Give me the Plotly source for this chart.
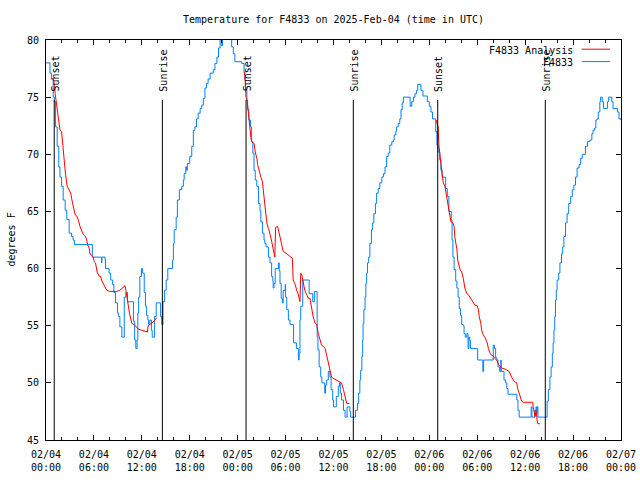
import pandas as pd
import plotly.graph_objects as go

BASE = "2025-02-04 00:00"
title_text = "Temperature for F4833 on 2025-Feb-04 (time in UTC)"
y_title = "degrees F"
legend_names = ["F4833 Analysis", "F4833"]

# Observed F4833 temperature (hours after 2025-02-04 00:00 UTC, deg F)
obs_hours = [
    0.0, 0.25, 0.5, 0.7, 0.9, 1.05, 1.2, 1.4, 1.6, 1.75, 1.95, 2.15, 2.4, 2.6, 2.9, 3.2, 3.4, 3.55,
    5.8, 6.95, 7.0, 7.4, 7.45, 7.9, 8.1, 8.35, 8.5, 8.7, 8.95, 9.1, 9.25, 9.5, 9.8, 10.0, 10.2,
    10.95, 11.1, 11.25, 11.4, 11.5, 11.6, 11.75, 11.95, 12.1, 12.3, 12.45, 12.6, 12.75, 12.85,
    13.0, 13.2, 13.3, 13.6, 13.8, 14.35, 14.5, 14.65, 14.85, 15.05, 15.25, 15.85, 15.95, 16.05,
    16.3, 16.45, 16.7, 17.0, 17.2, 17.3, 17.5, 17.6, 17.7, 18.0, 18.25, 18.45, 18.65, 18.85,
    19.05, 19.3, 19.5, 19.7, 19.9, 20.1, 20.3, 20.55, 20.95, 21.15, 21.4, 21.6, 21.8, 22.0,
    22.1, 22.5, 23.0, 23.25, 23.45, 23.65, 24.5, 24.8, 24.9, 25.0, 25.15, 25.25, 25.4, 25.6,
    25.75, 25.9, 26.05, 26.2, 26.4, 26.6, 26.8, 26.9, 27.1, 27.3, 27.4, 27.55, 27.85, 28.05,
    28.25, 28.4, 28.45, 28.55, 28.7, 29.1, 29.2, 29.3, 29.45, 29.6, 29.7, 29.95, 30.0, 30.15,
    30.35, 30.55, 31.0, 31.35, 31.6, 31.7, 31.8, 31.9, 32.15, 32.95, 33.4, 33.6, 33.95, 34.05,
    34.2, 34.4, 34.55, 34.9, 35.0, 35.15, 35.35, 35.55, 35.7, 35.9, 36.0, 36.35, 36.6, 36.75,
    36.85, 37.0, 37.25, 37.45, 37.7, 38.05, 38.15, 38.75, 38.85, 39.0, 39.15, 39.3, 39.4, 39.55,
    39.65, 39.7, 39.8, 39.95, 40.05, 40.15, 40.25, 40.4, 40.55, 40.75, 40.9, 41.05, 41.25, 41.4,
    41.6, 41.8, 42.05, 42.25, 42.45, 42.65, 42.85, 43.05, 43.3, 43.5, 43.6, 43.8, 43.9, 44.1,
    44.3, 44.45, 44.6, 44.75, 45.6, 45.8, 46.0, 46.2, 46.4, 46.55, 46.95, 47.2, 47.75, 48.0,
    48.2, 48.4, 48.8, 48.95, 49.1, 49.3, 49.45, 49.6, 50.05, 50.25, 50.45, 50.75, 50.85, 50.95,
    51.1, 51.3, 51.45, 51.6, 51.75, 51.9, 52.05, 52.25, 52.35, 52.5, 52.7, 52.85, 52.95, 53.05,
    53.15, 54.05, 54.7, 54.8, 56.0, 56.15, 56.3, 56.45, 56.6, 56.8, 56.95, 57.0, 57.35, 57.55,
    57.7, 57.85, 58.95, 59.1, 59.25, 60.75, 60.85, 61.2, 61.35, 61.45, 61.5, 61.6, 62.75, 62.9,
    63.1, 63.25, 63.4, 63.5, 63.6, 63.7, 63.8, 63.9, 64.0, 64.2, 64.35, 64.55, 64.7, 64.85,
    65.05, 65.25, 65.45, 65.7, 65.9, 66.1, 66.3, 66.5, 66.75, 66.95, 67.15, 67.55, 67.8, 68.1,
    68.35, 68.5, 68.7, 68.85, 69.0, 69.15, 69.35, 69.45, 69.65, 69.8, 70.3, 70.45, 70.85, 71.0,
    71.55, 71.75, 72.0,
]
obs_temp = [
    78.0, 78.0, 77.1, 76.6, 75.0, 74.6, 72.4, 70.7, 68.9, 68.0, 67.2, 66.0, 65.1, 64.3, 63.1, 62.8, 62.5, 62.1,
    61.0, 60.5, 61.0, 60.75, 60.0, 59.6, 59.0, 58.6, 57.9, 57.0, 56.1, 55.8, 54.9, 54.0, 57.5, 57.9, 57.1,
    55.4, 53.75, 53.0, 53.75, 56.1, 57.5, 59.3, 60.0, 59.6, 57.9, 56.7, 55.9, 55.5, 55.1,
    55.5, 54.6, 54.0, 55.8, 57.0, 55.8, 55.1, 57.1, 58.1, 59.0, 60.0, 60.75, 62.2, 63.4,
    64.5, 66.0, 66.9, 67.2, 67.75, 68.3, 68.9, 68.6, 69.2, 69.8, 70.7, 72.1, 72.4, 73.1,
    73.6, 74.0, 74.3, 74.9, 75.8, 76.2, 76.6, 77.1, 77.4, 77.95, 78.5, 79.3, 80.2, 79.5,
    80.3, 81.0, 80.3, 79.4, 78.8, 78.1, 77.95, 77.2, 76.5, 75.6, 74.75, 73.9, 73.0, 72.4,
    71.1, 70.1, 68.6, 67.75, 67.2, 65.7, 65.0, 64.1, 63.1, 62.5, 62.2, 61.9, 61.0, 60.5,
    59.3, 58.9, 58.3, 58.7, 60.0, 60.5, 59.8, 58.7, 57.4, 57.0, 58.1, 58.6, 57.5, 56.4,
    55.5, 55.1, 53.5, 53.0, 52.0, 52.6, 55.5, 56.7, 59.0, 57.8, 57.1, 58.0, 54.0, 52.9,
    51.4, 50.5, 50.0, 49.1, 49.8, 50.25, 51.0, 50.5, 49.4, 48.5, 47.9, 48.8, 49.7, 50.0,
    49.1, 48.5, 47.6, 47.0, 47.9, 47.5, 47.0, 47.6, 47.6, 48.2, 49.1, 50.25, 51.1, 52.3,
    53.75, 55.2, 56.4, 57.5, 58.7, 59.6, 60.5, 61.0, 62.2, 63.4, 64.0, 64.8, 65.7, 66.6,
    67.0, 67.5, 68.0, 68.3, 68.9, 69.8, 70.1, 70.8, 71.1, 71.25, 71.7, 72.0, 72.4, 72.7,
    73.1, 73.9, 74.5, 75.0, 74.2, 74.6, 75.0, 75.3, 75.6, 76.1, 75.6, 75.1, 74.6, 74.2,
    73.7, 73.1, 72.0, 70.8, 70.2, 69.5, 68.6, 68.0, 67.0, 66.3, 65.0, 64.25, 62.5, 61.0,
    59.9, 58.9, 58.3, 57.5, 56.5, 55.9, 55.1, 55.0, 54.3, 54.0, 54.3, 53.0, 54.0, 53.7,
    53.0, 52.0, 51.0, 52.0, 53.3, 53.0, 52.2, 52.0, 51.4, 51.0, 52.0, 51.0, 50.25, 50.0,
    49.5, 49.0, 48.5, 47.6, 47.0, 47.9, 47.0, 47.6, 47.9, 47.3, 47.9, 47.0, 48.4, 49.4,
    50.5, 51.4, 52.6, 53.5, 54.6, 55.8, 57.25, 58.1, 59.0, 59.6, 60.5, 61.3, 61.9, 62.8,
    64.0, 64.8, 65.7, 66.3, 66.9, 67.3, 68.0, 68.8, 69.1, 69.65, 70.0, 70.7, 71.1, 71.25,
    71.8, 72.1, 72.3, 73.0, 73.1, 73.7, 74.6, 75.0, 74.6, 74.0, 74.6, 75.0, 74.6, 74.0,
    73.7, 73.1, 73.0,
]

# F4833 Analysis (hours after 2025-02-04 00:00 UTC, deg F)
ana_hours = [
    0.6, 0.95, 1.15, 1.35, 1.55, 1.75, 1.95, 2.1, 2.25, 2.45, 2.65, 2.9, 3.1, 3.2, 3.4, 3.65,
    3.85, 4.05, 4.25, 4.45, 4.65, 4.95, 5.1, 5.2, 5.4, 5.5, 5.7, 5.9, 6.05, 6.2, 6.4, 6.65,
    6.85, 6.95, 7.15, 7.4, 7.6, 8.0, 8.85, 9.25, 9.7, 9.9, 10.0, 10.2, 10.3, 10.45, 10.6,
    10.75, 11.05, 11.25, 11.55, 12.0, 12.4, 12.7, 12.8, 13.0, 13.25, 13.45, 13.65, 13.85,
    None,
    24.8, 24.9, 25.05, 25.2, 25.35, 25.45, 25.65, 25.75, 26.05, 26.2, 26.4, 26.5, 26.7, 26.9,
    27.1, 27.2, 27.35, 27.5, 27.65, 27.85, 27.95, 28.25, 28.45, 28.65, 28.75, 29.0, 29.2,
    29.4, 29.5, 29.7, 30.15, 30.55, 30.85, 30.95, 31.2, 31.4, 31.6, 31.8, 31.9, 32.05, 32.2,
    32.4, 32.65, 32.85, 33.05, 33.25, 33.45, 33.7, 33.9, 34.1, 34.3, 34.5, 34.7, 34.95,
    35.15, 35.35, 35.55, 35.75, 35.95, 36.4, 36.8, 37.0, 37.25, 37.45, 37.65, 38.0,
    None,
    48.85, 49.1, 49.2, 49.35, 49.45, 49.6, 49.75, 49.95, 50.1, 50.25, 50.5, 50.7, 50.95,
    51.1, 51.2, 51.45, 51.55, 51.75, 51.85, 52.05, 52.25, 52.45, 52.7, 52.9, 53.1, 53.3,
    53.5, 53.7, 54.0, 54.15, 54.25, 54.45, 54.55, 54.75, 54.95, 55.1, 55.25, 55.4, 55.6,
    55.8, 56.0, 56.2, 56.5, 56.65, 56.85, 57.05, 57.5, 57.75, 58.0, 58.3, 58.65, 58.95,
    59.05, 59.25, 59.35, 59.55, 59.75, 60.95, 61.0, 61.15, 61.25, 61.35, 61.45, 61.55, 61.85,
]
ana_temp = [
    76.6, 76.6, 75.3, 74.2, 73.1, 72.1, 72.0, 70.7, 69.2, 68.2, 67.2, 66.9, 66.6, 66.15, 65.4, 64.7,
    64.6, 64.25, 63.7, 63.3, 63.0, 62.8, 62.5, 62.1, 61.8, 61.3, 61.2, 61.0, 60.6, 60.5, 59.7, 59.35,
    59.3, 59.0, 58.7, 58.4, 58.1, 58.0, 58.0, 58.1, 58.4, 58.5, 58.1, 57.4, 56.8, 56.1, 55.5,
    55.2, 55.1, 54.9, 54.7, 54.6, 54.5, 54.45, 55.0, 55.1, 55.2, 55.35, 55.5, 55.7,
    None,
    77.2, 76.9, 75.0, 74.6, 73.6, 72.7, 71.5, 71.1, 70.95, 70.2, 69.65, 69.1, 68.5, 68.0,
    67.6, 66.9, 65.7, 65.0, 64.0, 63.5, 63.3, 62.4, 61.7, 61.0, 63.6, 63.7, 63.1,
    62.4, 62.1, 61.5, 61.3, 61.1, 60.9, 59.0, 58.6, 58.1, 57.7, 57.1, 59.6, 59.4, 58.7,
    58.1, 57.7, 57.4, 57.4, 56.5, 55.8, 55.2, 55.1, 54.3, 53.75, 53.3, 53.2, 53.0,
    52.4, 51.7, 51.1, 50.5, 50.4, 50.25, 50.1, 50.0, 49.4, 48.8, 48.2, 48.2,
    None,
    73.0, 72.4, 70.8, 70.1, 69.2, 68.3, 67.5, 67.2, 66.6, 66.0, 65.0, 64.1, 64.0,
    63.7, 62.7, 61.7, 60.75, 60.2, 59.9, 59.7, 59.15, 58.3, 57.8, 57.7, 57.5, 57.25,
    57.0, 56.8, 56.75, 56.4, 55.8, 55.2, 54.6, 54.2, 54.0, 53.75, 53.5, 53.0, 52.6,
    52.4, 52.35, 52.15, 51.9, 51.6, 51.4, 51.3, 51.2, 51.1, 51.0, 50.5, 50.1, 50.0,
    49.5, 49.1, 48.8, 48.4, 48.3, 48.3, 47.9, 47.5, 47.05, 47.6, 46.95, 46.45, 46.4,
]

# Sun events (hours after 2025-02-04 00:00 UTC)
event_hours = [1.03, 14.57, 25.05, 38.48, 49.05, 62.52]
event_labels = ["Sunset", "Sunrise", "Sunset", "Sunrise", "Sunset", "Sunrise"]

tick_hours = [0, 6, 12, 18, 24, 30, 36, 42, 48, 54, 60, 66, 72]
tick_labels = ["02/04<br>00:00", "02/04<br>06:00", "02/04<br>12:00", "02/04<br>18:00",
               "02/05<br>00:00", "02/05<br>06:00", "02/05<br>12:00", "02/05<br>18:00",
               "02/06<br>00:00", "02/06<br>06:00", "02/06<br>12:00", "02/06<br>18:00",
               "02/07<br>00:00"]
y_ticks = [45, 50, 55, 60, 65, 70, 75, 80]

base = pd.Timestamp(BASE)


def to_time(hours):
    return [None if h is None else base + pd.Timedelta(hours=h) for h in hours]


FONT = "DejaVu Sans Mono"
RED = "#ff0000"
BLUE = "#0080ff"

fig = go.Figure()
fig.add_trace(go.Scatter(x=to_time(obs_hours), y=obs_temp, mode="lines",
                         line=dict(color=BLUE, width=1, shape="hv"),
                         name=legend_names[1], showlegend=False))
fig.add_trace(go.Scatter(x=to_time(ana_hours), y=ana_temp, mode="lines",
                         line=dict(color=RED, width=1), connectgaps=False,
                         name=legend_names[0], showlegend=False))

shapes = []
annotations = []
for h, lab in zip(to_time(event_hours), event_labels):
    shapes.append(dict(type="line", xref="x", yref="y domain", x0=h, x1=h, y0=0, y1=0.85,
                       line=dict(color="black", width=1)))
    annotations.append(dict(x=h, y=0.868, xref="x", yref="y domain", text=lab,
                            textangle=-90, showarrow=False, xanchor="center",
                            yanchor="bottom", xshift=1.5, borderpad=0,
                            font=dict(family=FONT, size=10, color="black")))

# legend (gnuplot style: text then sample line)
leg_y = [0.975, 0.944]
for name, col, yy in zip(legend_names, [RED, BLUE], leg_y):
    annotations.append(dict(x=0.9183, y=yy, xref="paper", yref="paper", text=name,
                            showarrow=False, xanchor="right", yanchor="middle",
                            borderpad=0, font=dict(family=FONT, size=10, color="black")))
    shapes.append(dict(type="line", xref="paper", yref="paper", x0=0.9317, x1=0.9809,
                       y0=yy + 0.002, y1=yy + 0.002, line=dict(color=col, width=1)))

annotations.append(dict(x=-0.0617, y=0.5, xref="paper", yref="paper", text=y_title,
                        textangle=-90, showarrow=False, xanchor="center", yanchor="middle",
                        font=dict(family=FONT, size=10, color="black")))

fig.update_layout(
    width=640, height=480,
    margin=dict(l=46, r=19, t=40, b=40, pad=0, autoexpand=False),
    paper_bgcolor="white", plot_bgcolor="white",
    font=dict(family=FONT, size=10, color="black"),
    title=dict(text=title_text, x=0.5, xref="paper", xanchor="center",
               y=1 - 19 / 480, yref="container", yanchor="middle", automargin=False,
               font=dict(family=FONT, size=10, color="black")),
    shapes=shapes, annotations=annotations, showlegend=False, hovermode=False,
)
fig.update_xaxes(
    range=[base, base + pd.Timedelta(hours=72)], automargin=False,
    tickvals=to_time(tick_hours), ticktext=tick_labels, ticklabelstandoff=5,
    ticks="inside", ticklen=5, tickcolor="black", tickwidth=1,
    showline=True, linecolor="black", linewidth=1, mirror="allticks",
    showgrid=False, zeroline=False,
    minor=dict(dtick=2 * 3600 * 1000, tick0=base, ticks="inside", ticklen=3,
               tickcolor="black", tickwidth=1, showgrid=False),
)
fig.update_yaxes(
    range=[45, 80], tickvals=y_ticks, automargin=False, ticklabelstandoff=4,
    ticks="inside", ticklen=5, tickcolor="black", tickwidth=1,
    showline=True, linecolor="black", linewidth=1, mirror="allticks",
    showgrid=False, zeroline=False,
)

# remove the default page margin so the 640x480 figure fills the window exactly
fig.write_html("out.html", config={"displayModeBar": False},
               post_script="document.body.style.margin='0';")
